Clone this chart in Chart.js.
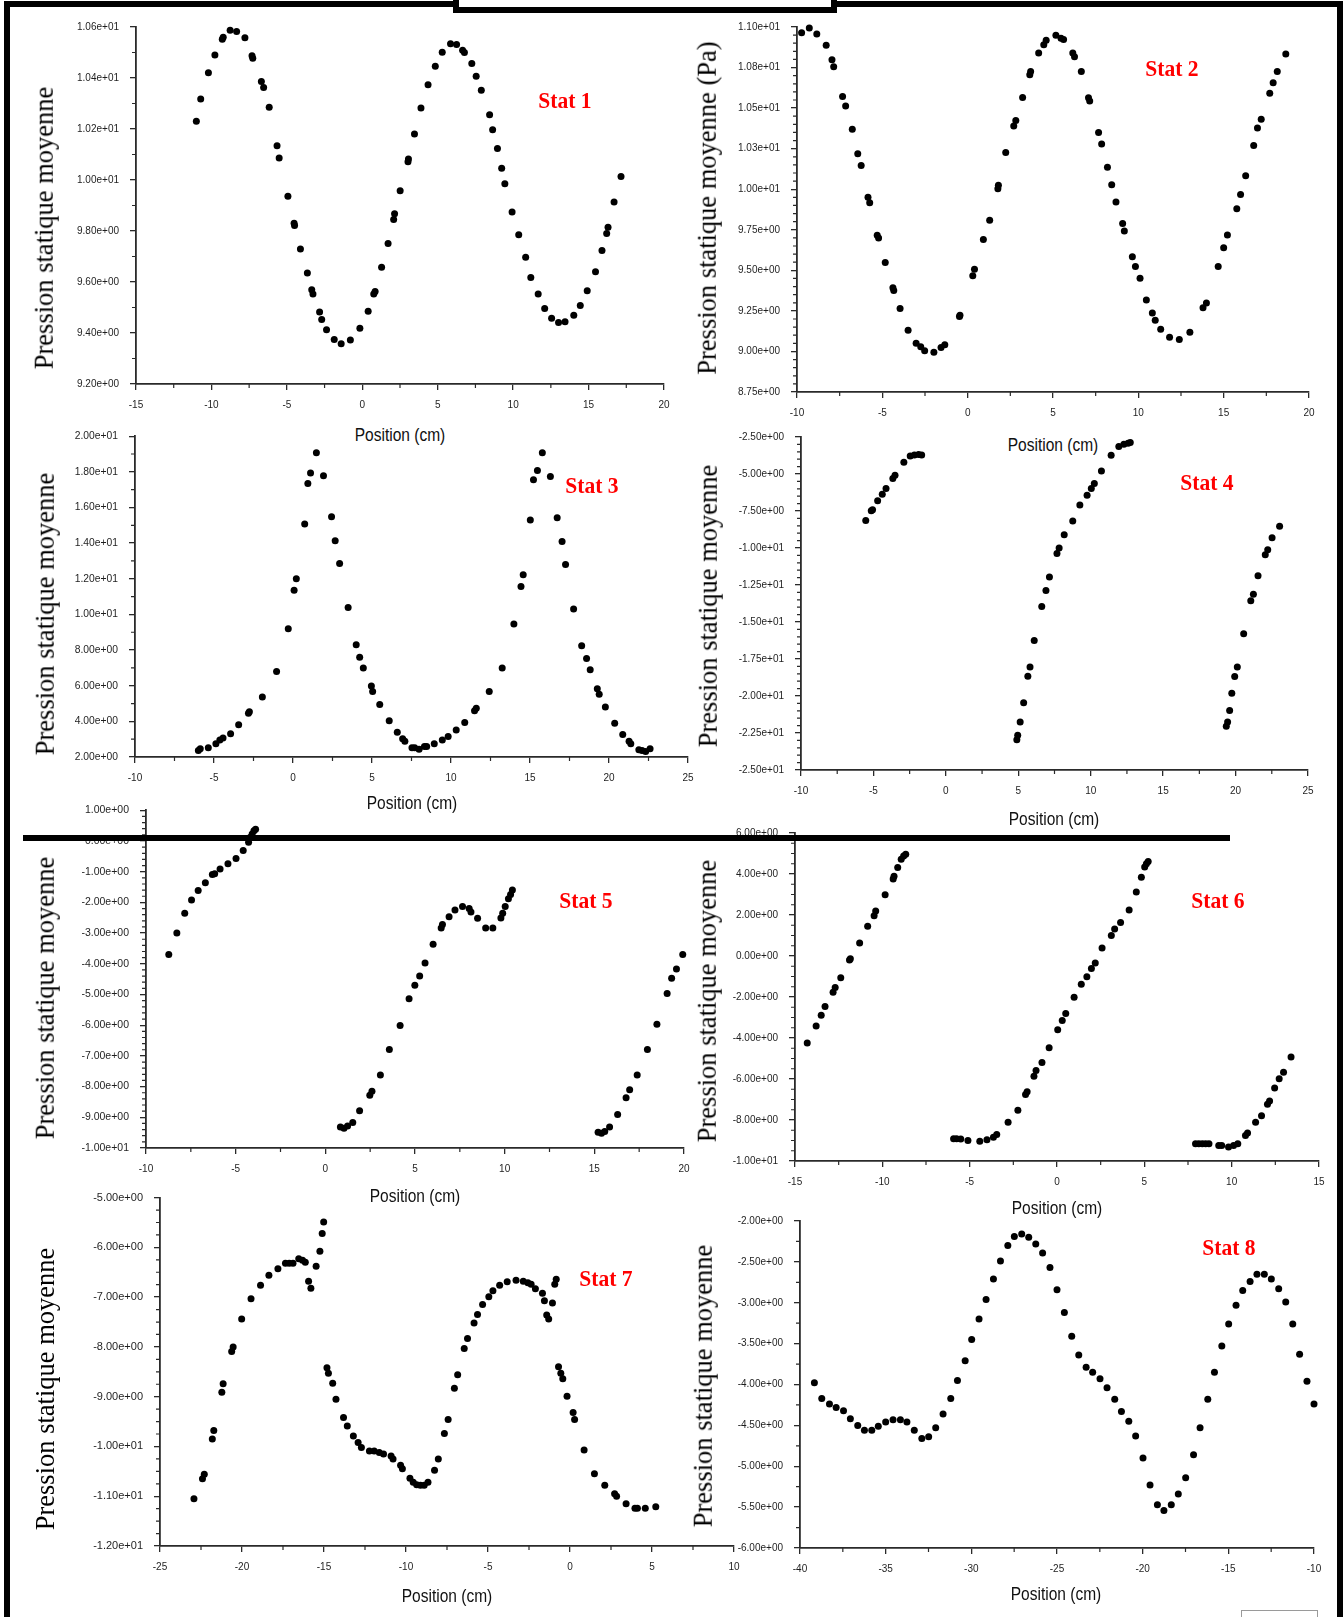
<!DOCTYPE html>
<html>
<head>
<meta charset="utf-8">
<title>Pression statique moyenne – Stat 1 à 8</title>
<script src="https://cdn.jsdelivr.net/npm/chart.js"></script>
<style>
  html, body { margin: 0; padding: 0; background: #fff; }
  #page { position: relative; width: 1343px; height: 1617px; overflow: hidden; background: #fff; }
  #page canvas { position: absolute; }
  .txt { position: absolute; white-space: nowrap; line-height: 1; }
  .ytitle { font-family: "Liberation Serif", "Times New Roman", serif; font-size: 26.5px; color: #000; }
  .xtitle { font-family: "Liberation Sans", Arial, sans-serif; font-size: 16px; color: #111; }
  .stat { font-family: "Liberation Serif", "Times New Roman", serif; font-weight: bold; font-size: 22px; color: #ff0000; }
  .bar { position: absolute; background: #000; z-index: 10; }
</style>
</head>
<body>
<div id="page"></div>
<script>
// ---- Measured mean static pressure, [position (cm), pressure] ----
const stat1 = [[-11.00,10.230],[-10.71,10.318],[-10.20,10.421],[-9.77,10.490],[-9.28,10.552],[-9.22,10.560],[-8.76,10.587],[-8.33,10.582],[-7.78,10.558],[-7.31,10.487],[-7.26,10.477],[-6.69,10.386],[-6.54,10.363],[-6.17,10.285],[-5.65,10.134],[-5.51,10.086],[-4.93,9.936],[-4.52,9.830],[-4.49,9.822],[-4.10,9.729],[-3.64,9.635],[-3.35,9.570],[-3.27,9.553],[-2.83,9.482],[-2.69,9.453],[-2.37,9.413],[-1.86,9.375],[-1.40,9.358],[-0.79,9.373],[-0.16,9.419],[0.39,9.485],[0.76,9.553],[0.85,9.563],[1.28,9.658],[1.71,9.751],[2.08,9.845],[2.14,9.868],[2.51,9.958],[3.03,10.072],[3.06,10.082],[3.46,10.180],[3.89,10.282],[4.36,10.374],[4.84,10.446],[5.30,10.501],[5.85,10.534],[6.25,10.531],[6.65,10.509],[6.77,10.500],[7.26,10.457],[7.55,10.407],[7.89,10.352],[8.44,10.256],[8.64,10.197],[8.96,10.124],[9.24,10.046],[9.45,9.985],[9.93,9.875],[10.37,9.785],[10.83,9.697],[11.17,9.618],[11.66,9.553],[12.09,9.496],[12.55,9.458],[13.01,9.441],[13.44,9.444],[14.02,9.470],[14.45,9.508],[14.91,9.566],[15.46,9.640],[15.89,9.724],[16.20,9.790],[16.29,9.815],[16.69,9.914],[17.15,10.014]];

const stat2 = [[-9.73,10.965],[-9.28,10.994],[-8.84,10.957],[-8.29,10.888],[-7.95,10.798],[-7.85,10.755],[-7.33,10.572],[-7.15,10.513],[-6.76,10.370],[-6.44,10.219],[-6.24,10.146],[-5.84,9.950],[-5.74,9.916],[-5.30,9.716],[-5.22,9.700],[-4.83,9.549],[-4.38,9.392],[-4.33,9.376],[-3.96,9.264],[-3.49,9.131],[-3.02,9.050],[-2.75,9.029],[-2.52,9.005],[-1.98,8.995],[-1.56,9.025],[-1.34,9.042],[-0.48,9.215],[-0.45,9.223],[0.30,9.467],[0.40,9.506],[0.92,9.690],[1.29,9.808],[1.77,10.003],[1.80,10.024],[2.23,10.226],[2.70,10.389],[2.82,10.423],[3.22,10.566],[3.64,10.705],[3.69,10.725],[4.16,10.839],[4.46,10.890],[4.60,10.918],[5.17,10.949],[5.47,10.931],[5.62,10.923],[6.16,10.839],[6.26,10.817],[6.66,10.725],[7.08,10.564],[7.15,10.544],[7.67,10.350],[7.85,10.279],[8.19,10.136],[8.44,10.028],[8.69,9.922],[9.08,9.789],[9.18,9.743],[9.65,9.584],[9.83,9.523],[10.10,9.451],[10.47,9.317],[10.82,9.237],[10.99,9.192],[11.31,9.137],[11.83,9.088],[12.40,9.074],[13.02,9.119],[13.79,9.270],[13.99,9.298],[14.68,9.523],[15.00,9.639],[15.22,9.718],[15.77,9.879],[15.99,9.967],[16.29,10.083],[16.76,10.270],[16.98,10.378],[17.20,10.431],[17.70,10.592],[17.90,10.656],[18.14,10.725],[18.64,10.833]];

const stat3 = [[-5.99,2.37],[-5.87,2.46],[-5.36,2.52],[-4.88,2.74],[-4.63,2.96],[-4.43,3.06],[-3.95,3.30],[-3.44,3.81],[-2.82,4.46],[-2.76,4.54],[-1.94,5.37],[-1.04,6.80],[-0.30,9.20],[0.07,11.35],[0.21,12.00],[0.74,15.07],[0.94,17.35],[1.11,17.93],[1.48,19.07],[1.93,17.78],[2.44,15.48],[2.67,14.13],[2.95,12.85],[3.49,10.39],[4.00,8.30],[4.22,7.59],[4.45,7.00],[4.96,5.98],[5.04,5.67],[5.49,4.94],[6.09,4.04],[6.60,3.39],[6.94,3.02],[7.08,2.89],[7.53,2.52],[7.70,2.52],[7.98,2.43],[8.32,2.59],[8.46,2.59],[8.94,2.74],[9.45,2.96],[9.82,3.15],[10.33,3.52],[10.87,3.94],[11.49,4.59],[11.60,4.74],[12.42,5.67],[13.24,7.00],[13.98,9.46],[14.43,11.57],[14.57,12.22],[15.02,15.30],[15.22,17.56],[15.47,18.07],[15.78,19.07],[16.29,17.74],[16.72,15.43],[17.03,14.09],[17.25,12.80],[17.76,10.30],[18.27,8.24],[18.58,7.52],[18.81,6.89],[19.26,5.83],[19.38,5.52],[19.77,4.81],[20.36,3.89],[20.87,3.26],[21.27,2.89],[21.38,2.74],[21.89,2.41],[22.09,2.37],[22.32,2.31],[22.60,2.46]];

const stat4 = [[-5.53,-8.15],[-5.15,-7.48],[-5.06,-7.41],[-4.71,-6.81],[-4.39,-6.36],[-4.13,-5.98],[-3.66,-5.31],[-3.51,-5.09],[-2.90,-4.20],[-2.46,-3.79],[-2.17,-3.71],[-1.88,-3.68],[-1.67,-3.71],
  [4.90,-22.95],[4.96,-22.66],[5.13,-21.76],[5.37,-20.45],[5.66,-18.66],[5.81,-18.04],[6.10,-16.25],[6.62,-13.95],[6.91,-12.88],[7.15,-11.96],[7.67,-10.38],[7.82,-10.00],[8.17,-9.11],[8.76,-8.17],[9.25,-7.10],[9.75,-6.43],[10.04,-5.98],[10.25,-5.65],[10.74,-4.80],[11.41,-3.73],[11.94,-3.15],[12.29,-2.99],[12.58,-2.92],[12.73,-2.88],
  [19.36,-22.05],[19.45,-21.76],[19.59,-20.98],[19.74,-19.82],[19.94,-18.68],[20.12,-18.04],[20.56,-15.80],[21.05,-13.57],[21.23,-13.12],[21.55,-11.88],[22.05,-10.45],[22.22,-10.11],[22.52,-9.31],[23.04,-8.53]];

const stat5 = [[-8.73,-3.70],[-8.28,-3.00],[-7.84,-2.35],[-7.46,-1.92],[-7.09,-1.61],[-6.69,-1.36],[-6.30,-1.09],[-6.17,-1.07],[-5.87,-0.91],[-5.43,-0.74],[-4.98,-0.57],[-4.58,-0.31],[-4.28,-0.04],[-4.18,0.12],[-4.08,0.23],[-3.98,0.33],[-3.89,0.38],
  [0.84,-9.32],[1.04,-9.36],[1.24,-9.28],[1.53,-9.17],[1.91,-8.79],[2.48,-8.28],[2.60,-8.15],[3.07,-7.62],[3.57,-6.79],[4.17,-6.01],[4.67,-5.14],[4.99,-4.70],[5.26,-4.40],[5.56,-3.97],[6.01,-3.36],[6.46,-2.83],[6.53,-2.72],[6.90,-2.47],[7.23,-2.25],[7.65,-2.13],[8.02,-2.20],[8.12,-2.31],[8.49,-2.52],[8.94,-2.83],[9.34,-2.83],[9.79,-2.51],[9.89,-2.35],[10.03,-2.13],[10.21,-1.88],[10.33,-1.74],[10.43,-1.60],
  [15.21,-9.49],[15.40,-9.52],[15.58,-9.46],[15.85,-9.32],[16.30,-8.91],[16.77,-8.36],[16.97,-8.10],[17.39,-7.62],[17.96,-6.79],[18.49,-5.97],[19.06,-4.97],[19.31,-4.47],[19.58,-4.17],[19.93,-3.70]];

const stat6 = [[-14.30,-4.24],[-13.79,-3.41],[-13.50,-2.89],[-13.28,-2.46],[-12.82,-1.77],[-12.70,-1.54],[-12.38,-1.06],[-11.88,-0.19],[-11.83,-0.13],[-11.30,0.64],[-10.84,1.45],[-10.47,1.96],[-10.38,2.20],[-9.84,2.99],[-9.38,3.76],[-9.33,3.89],[-9.12,4.32],[-8.92,4.72],[-8.78,4.88],[-8.66,4.96],
  [-5.92,-8.92],[-5.75,-8.92],[-5.51,-8.93],[-5.10,-9.00],[-4.42,-9.04],[-4.01,-8.96],[-3.64,-8.84],[-3.45,-8.71],[-2.80,-8.11],[-2.24,-7.52],[-1.80,-6.75],[-1.71,-6.62],[-1.32,-5.86],[-1.20,-5.59],[-0.86,-5.19],[-0.45,-4.47],[0.04,-3.60],[0.30,-3.15],[0.50,-2.80],[0.98,-2.01],[1.39,-1.38],[1.71,-1.01],[1.97,-0.61],[2.19,-0.34],[2.58,0.39],[3.11,1.00],[3.30,1.32],[3.64,1.64],[4.13,2.25],[4.54,3.12],[4.83,3.84],[5.02,4.34],[5.12,4.50],[5.22,4.61],
  [7.93,-9.16],[8.12,-9.16],[8.32,-9.16],[8.51,-9.16],[8.70,-9.16],[9.26,-9.24],[9.43,-9.24],[9.82,-9.32],[10.11,-9.24],[10.35,-9.16],[10.79,-8.75],[10.91,-8.64],[11.37,-8.11],[11.71,-7.79],[12.05,-7.23],[12.17,-7.07],[12.46,-6.44],[12.72,-5.99],[12.97,-5.67],[13.40,-4.93]];

const stat7 = [[-22.93,-11.05],[-22.41,-10.65],[-22.30,-10.56],[-21.81,-9.85],[-21.72,-9.68],[-21.23,-8.91],[-21.15,-8.74],[-20.63,-8.09],[-20.54,-8.00],[-20.02,-7.44],[-19.45,-7.03],[-18.87,-6.76],[-18.36,-6.56],[-17.81,-6.43],[-17.35,-6.32],[-17.12,-6.32],[-16.89,-6.32],[-16.54,-6.23],[-16.31,-6.26],[-16.14,-6.30],[-15.94,-6.68],[-15.80,-6.82],[-15.48,-6.38],[-15.25,-6.08],[-15.11,-5.72],[-15.02,-5.49],
  [-14.82,-8.42],[-14.73,-8.53],[-14.47,-8.73],[-14.27,-9.05],[-13.81,-9.42],[-13.58,-9.59],[-13.21,-9.79],[-12.92,-9.92],[-12.72,-10.02],[-12.23,-10.09],[-11.94,-10.09],[-11.63,-10.12],[-11.37,-10.15],[-10.91,-10.19],[-10.79,-10.25],[-10.33,-10.38],[-10.22,-10.45],[-9.76,-10.64],[-9.56,-10.72],[-9.35,-10.77],[-9.12,-10.78],[-8.89,-10.78],[-8.66,-10.72],[-8.26,-10.48],[-8.03,-10.25],[-7.66,-9.74],[-7.43,-9.46],[-7.05,-8.83],[-6.85,-8.56],[-6.45,-8.03],[-6.25,-7.83],[-5.85,-7.52],[-5.64,-7.35],[-5.33,-7.15],[-4.95,-6.99],[-4.70,-6.87],[-4.29,-6.76],[-3.83,-6.69],[-3.29,-6.66],[-2.85,-6.68],[-2.57,-6.71],[-2.37,-6.74],[-2.11,-6.83],[-1.68,-6.92],[-1.56,-7.07],[-1.42,-7.36],[-1.30,-7.44],[-1.07,-7.12],[-0.93,-6.74],[-0.84,-6.64],
  [-0.70,-8.40],[-0.56,-8.53],[-0.44,-8.64],[-0.18,-8.99],[0.19,-9.32],[0.28,-9.46],[0.86,-10.07],[1.49,-10.55],[2.12,-10.78],[2.72,-10.95],[2.84,-11.00],[3.42,-11.15],[3.96,-11.24],[4.11,-11.24],[4.59,-11.24],[5.23,-11.21]];

const stat8 = [[-39.16,-3.98],[-38.73,-4.17],[-38.28,-4.24],[-37.89,-4.28],[-37.46,-4.32],[-37.06,-4.42],[-36.63,-4.50],[-36.24,-4.56],[-35.81,-4.56],[-35.43,-4.51],[-35.00,-4.46],[-34.57,-4.43],[-34.14,-4.43],[-33.76,-4.46],[-33.33,-4.56],[-32.89,-4.66],[-32.49,-4.64],[-32.08,-4.53],[-31.65,-4.36],[-31.20,-4.17],[-30.81,-3.95],[-30.36,-3.71],[-29.98,-3.45],[-29.55,-3.20],[-29.14,-2.96],[-28.71,-2.71],[-28.30,-2.49],[-27.87,-2.30],[-27.49,-2.19],[-27.06,-2.16],[-26.65,-2.20],[-26.24,-2.28],[-25.84,-2.39],[-25.41,-2.57],[-25.00,-2.84],[-24.57,-3.12],[-24.14,-3.41],[-23.73,-3.64],[-23.30,-3.79],[-22.92,-3.85],[-22.49,-3.93],[-22.08,-4.04],[-21.63,-4.18],[-21.24,-4.33],[-20.81,-4.45],[-20.41,-4.63],[-19.98,-4.90],[-19.57,-5.23],[-19.14,-5.47],[-18.76,-5.54],[-18.33,-5.47],[-17.92,-5.34],[-17.49,-5.14],[-17.03,-4.86],[-16.65,-4.53],[-16.20,-4.18],[-15.81,-3.85],[-15.38,-3.53],[-14.98,-3.26],[-14.55,-3.03],[-14.16,-2.85],[-13.73,-2.74],[-13.33,-2.65],[-12.90,-2.65],[-12.49,-2.71],[-12.06,-2.83],[-11.65,-2.99],[-11.24,-3.26],[-10.84,-3.63],[-10.41,-3.96],[-10.00,-4.24]];

// ---- Axis tick values ----
const xTicks1 = [-15, -10, -5, 0, 5, 10, 15, 20];
const yTicks1 = [9.2, 9.4, 9.6, 9.8, 10.0, 10.2, 10.4, 10.6];
const xTicks2 = [-10, -5, 0, 5, 10, 15, 20];
const yTicks2 = [8.75, 9.0, 9.25, 9.5, 9.75, 10.0, 10.25, 10.5, 10.75, 11.0];
const xTicks3 = [-10, -5, 0, 5, 10, 15, 20, 25];
const yTicks3 = [2, 4, 6, 8, 10, 12, 14, 16, 18, 20];
const xTicks4 = [-10, -5, 0, 5, 10, 15, 20, 25];
const yTicks4 = [-25, -22.5, -20, -17.5, -15, -12.5, -10, -7.5, -5, -2.5];
const xTicks5 = [-10, -5, 0, 5, 10, 15, 20];
const yTicks5 = [-10, -9, -8, -7, -6, -5, -4, -3, -2, -1, 0, 1];
const xTicks6 = [-15, -10, -5, 0, 5, 10, 15];
const yTicks6 = [-10, -8, -6, -4, -2, 0, 2, 4, 6];
const xTicks7 = [-25, -20, -15, -10, -5, 0, 5, 10];
const yTicks7 = [-12, -11, -10, -9, -8, -7, -6, -5];
const xTicks8 = [-40, -35, -30, -25, -20, -15, -10];
const yTicks8 = [-6, -5.5, -5, -4.5, -4, -3.5, -3, -2.5, -2];

// ---- Styling / layout ----
const AXIS = '#2a2a2a';
const LABEL = '#1e1e1e';
const YW = 100, XH = 40, PT = 14, PR = 34;   // space reserved around each plot area
const MAJOR_LEN = 6, MINOR_LEN = 4;
const Y_TITLE = 'Pression statique moyenne';
const X_TITLE = 'Position (cm)';

const panels = [
  { data: stat1, xt: xTicks1, yt: yTicks1, area: [136, 24, 664, 384],   minor: [2.5, 0.1],  yFont: 10,   yTitle: Y_TITLE,           yPos: [47, 228],   xPos: [400, 436],   stat: 'Stat 1', sPos: [565, 100] },
  { data: stat2, xt: xTicks2, yt: yTicks2, area: [797, 24, 1309, 392],  minor: [2.5, 0.05], yFont: 10,   yTitle: Y_TITLE + ' (Pa)', yPos: [710, 208],  xPos: [1053, 446],  stat: 'Stat 2', sPos: [1172, 68] },
  { data: stat3, xt: xTicks3, yt: yTicks3, area: [135, 433, 688, 757],  minor: [2.5, 1],    yFont: 10.3, yTitle: Y_TITLE,           yPos: [48, 614],   xPos: [412, 804],   stat: 'Stat 3', sPos: [592, 485] },
  { data: stat4, xt: xTicks4, yt: yTicks4, area: [801, 434, 1308, 770], minor: [2.5, 0.5],  yFont: 10,   yTitle: Y_TITLE,           yPos: [711, 606],  xPos: [1054, 820],  stat: 'Stat 4', sPos: [1207, 482] },
  { data: stat5, xt: xTicks5, yt: yTicks5, area: [146, 807, 684, 1148], minor: [2.5, 0.2],  yFont: 10.5, yTitle: Y_TITLE,           yPos: [48, 998],   xPos: [415, 1197],  stat: 'Stat 5', sPos: [586, 900] },
  { data: stat6, xt: xTicks6, yt: yTicks6, area: [795, 830, 1319, 1161],minor: [2.5, 0.5],  yFont: 10,   yTitle: Y_TITLE,           yPos: [710, 1001], xPos: [1057, 1209], stat: 'Stat 6', sPos: [1218, 900] },
  { data: stat7, xt: xTicks7, yt: yTicks7, area: [160, 1194, 734, 1546],minor: [2.5, 0.25], yFont: 11,   yTitle: Y_TITLE,           yPos: [48, 1389],  xPos: [447, 1597],  stat: 'Stat 7', sPos: [606, 1278] },
  { data: stat8, xt: xTicks8, yt: yTicks8, area: [800, 1218, 1314, 1548],minor: [2.5, 0.25], yFont: 10,   yTitle: Y_TITLE,           yPos: [706, 1386], xPos: [1056, 1595], stat: 'Stat 8', sPos: [1229, 1247] }
];

// "1.06e+01" style labels
function sci(v) {
  return Number(v).toExponential(2).replace(/e([+-])(\d)$/, 'e$10$2');
}

function minorValues(min, max, step, majors) {
  const out = [];
  const n = Math.round((max - min) / step);
  for (let i = 0; i <= n; i++) {
    const v = min + i * step;
    if (!majors.some(m => Math.abs(m - v) < step / 10)) out.push(v);
  }
  return out;
}

// Short unlabelled ticks between the labelled ones
const minorTicks = {
  id: 'minorTicks',
  afterDraw(chart, args, opts) {
    const { ctx, chartArea } = chart;
    const xs = chart.scales.x, ys = chart.scales.y;
    ctx.save();
    ctx.strokeStyle = AXIS;
    ctx.lineWidth = 1.2;
    ctx.beginPath();
    for (const v of opts.x) {
      const px = xs.getPixelForValue(v);
      ctx.moveTo(px, chartArea.bottom);
      ctx.lineTo(px, chartArea.bottom + MINOR_LEN);
    }
    for (const v of opts.y) {
      const py = ys.getPixelForValue(v);
      ctx.moveTo(chartArea.left - MINOR_LEN, py);
      ctx.lineTo(chartArea.left, py);
    }
    ctx.stroke();
    ctx.restore();
  }
};

const page = document.getElementById('page');

function addText(text, cls, cx, cy, transformExtra) {
  const el = document.createElement('div');
  el.className = 'txt ' + cls;
  el.textContent = text;
  el.style.left = cx + 'px';
  el.style.top = cy + 'px';
  el.style.transform = 'translate(-50%, -50%)' + (transformExtra || '');
  page.appendChild(el);
}

function axisCommon(ticksArr, fontSize, pad) {
  return {
    type: 'linear',
    min: ticksArr[0],
    max: ticksArr[ticksArr.length - 1],
    afterBuildTicks: s => { s.ticks = ticksArr.map(v => ({ value: v })); },
    grid: { display: true, drawOnChartArea: false, drawTicks: true, tickLength: MAJOR_LEN, color: AXIS, lineWidth: 1.3 },
    border: { display: true, color: AXIS, width: 1.8 },
    ticks: {
      autoSkip: false, maxRotation: 0, minRotation: 0, padding: pad,
      color: LABEL,
      font: { family: '"Liberation Sans", Arial, sans-serif', size: fontSize }
    }
  };
}

panels.forEach(p => {
  const [l, t, r, b] = p.area;
  const cv = document.createElement('canvas');
  const w = r - l + YW + PR, h = b - t + PT + XH;
  cv.width = w; cv.height = h;
  cv.style.left = (l - YW) + 'px';
  cv.style.top = (t - PT) + 'px';
  cv.style.width = w + 'px';
  cv.style.height = h + 'px';
  page.appendChild(cv);

  const xAxis = axisCommon(p.xt, 10, 9);
  xAxis.position = 'bottom';
  xAxis.afterFit = s => { s.height = XH; };
  xAxis.ticks.callback = v => String(v);

  const yAxis = axisCommon(p.yt, p.yFont, 11);
  yAxis.position = 'left';
  yAxis.afterFit = s => { s.width = YW; };
  yAxis.ticks.callback = v => sci(v);

  new Chart(cv, {
    type: 'scatter',
    data: {
      datasets: [{
        data: p.data.map(([x, y]) => ({ x, y })),
        pointRadius: 3.5,
        pointHoverRadius: 3.5,
        pointBackgroundColor: '#000',
        pointBorderWidth: 0,
        borderColor: '#000',
        showLine: false,
        clip: false
      }]
    },
    options: {
      responsive: false,
      animation: false,
      events: [],
      layout: { padding: { left: 0, top: PT, right: PR, bottom: 0 } },
      plugins: {
        legend: { display: false },
        tooltip: { enabled: false },
        minorTicks: {
          x: minorValues(p.xt[0], p.xt[p.xt.length - 1], p.minor[0], p.xt),
          y: minorValues(p.yt[0], p.yt[p.yt.length - 1], p.minor[1], p.yt)
        }
      },
      scales: { x: xAxis, y: yAxis }
    },
    plugins: [minorTicks]
  });

  addText(p.yTitle, 'ytitle', p.yPos[0] - 3, p.yPos[1], ' rotate(-90deg)');
  addText(X_TITLE, 'xtitle', p.xPos[0], p.xPos[1] - 1, ' scale(0.97, 1.12)');
  addText(p.stat, 'stat', p.sPos[0], p.sPos[1], ' scale(0.98, 1.08)');
});

// Page frame and separators
function addBox(css) {
  const el = document.createElement('div');
  el.className = 'bar';
  Object.assign(el.style, css);
  page.appendChild(el);
}
addBox({ left: '4px', top: '1px', width: '1339px', height: '6px' });
addBox({ left: '4px', top: '1px', width: '6px', height: '1616px' });
addBox({ left: '1337px', top: '1px', width: '6px', height: '1616px' });
addBox({ left: '23px', top: '835px', width: '1207px', height: '6px' });
addBox({ left: '453px', top: '-6px', width: '384px', height: '19px', background: '#fff', border: '6px solid #000', boxSizing: 'border-box' });
addBox({ left: '1241px', top: '1610px', width: '77px', height: '14px', background: '#fff', border: '1px solid #9a9a9a', boxSizing: 'border-box' });
</script>
</body>
</html>
